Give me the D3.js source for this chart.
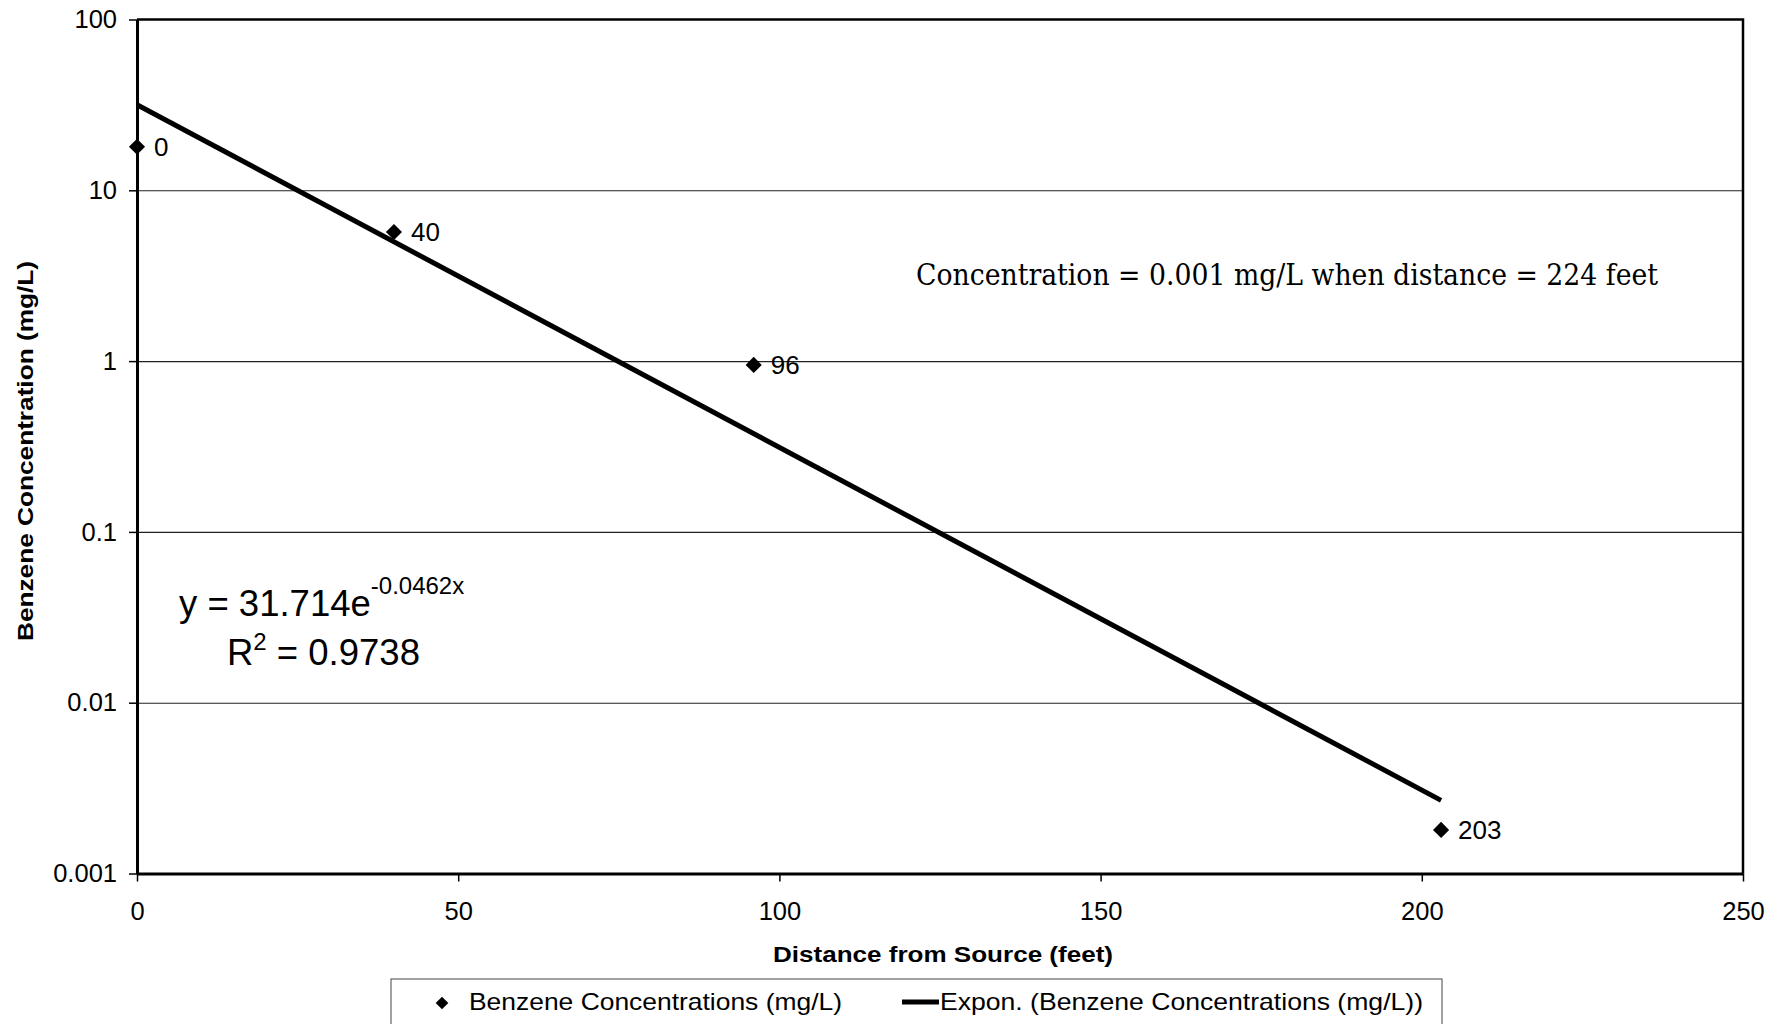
<!DOCTYPE html>
<html>
<head>
<meta charset="utf-8">
<script src="https://cdn.jsdelivr.net/npm/d3@7"></script>
<style>
  body { margin: 0; background: #fff; }
  svg text { font-family: "Liberation Sans", Arial, sans-serif; fill: #000; }
</style>
</head>
<body>
<div id="chart"></div>
<script>
// values
let distances = [0, 40, 96, 203];
let concentrations = [18, 5.7, 0.95, 0.0018];
let pointLabels = ['0', '40', '96', '203'];
let xTicks = [0, 50, 100, 150, 200, 250];
let yTicks = [100, 10, 1, 0.1, 0.01, 0.001];
let yTickLabels = ['100', '10', '1', '0.1', '0.01', '0.001'];
let gridValues = [10, 1, 0.1, 0.01];
// fitted exponential shown on the chart: y = a * e^(b x)
let trendCoef = [31.714, -0.0462];
let trendRange = [0, 203];

//#region sizes
let width = 1773,
    height = 1024,
    plotLeft = 137,
    plotRight = 1743,
    plotTop = 19.5,
    plotBottom = 873.5;
//#endregion

let svg = d3.select('#chart')
    .append('svg')
    .attr('width', width)
    .attr('height', height);

let xScale = d3.scaleLinear()
    .domain([0, 250])
    .range([plotLeft, plotRight]);

let yScale = d3.scaleLog()
    .domain([0.001, 100])
    .range([plotBottom, plotTop]);

//#region grid + axes
svg.append('g')
    .attr('class', 'grid')
    .attr('transform', `translate(${plotLeft},0)`)
    .call(d3.axisLeft(yScale).tickValues(gridValues).tickSize(-(plotRight - plotLeft)).tickFormat(''))
    .call(g => g.select('.domain').remove())
    .call(g => g.selectAll('line').attr('stroke', '#222').attr('stroke-width', 1.1));

// top + right border
svg.append('path')
    .attr('d', `M${plotLeft},${plotTop}H${plotRight}V${plotBottom}`)
    .attr('fill', 'none')
    .attr('stroke', '#000')
    .attr('stroke-width', 2.5);

let axisY = d3.axisLeft(yScale)
    .tickValues(yTicks)
    .tickFormat((d, i) => yTickLabels[i])
    .tickSize(8)
    .tickSizeOuter(0)
    .tickPadding(12);

svg.append('g')
    .attr('transform', `translate(${plotLeft},0)`)
    .call(axisY)
    .call(g => g.select('.domain').attr('stroke-width', 3))
    .call(g => g.selectAll('.tick line').attr('stroke-width', 1.5))
    .call(g => g.selectAll('text').attr('font-size', 25.5))
    .attr('font-family', null);

let axisX = d3.axisBottom(xScale)
    .tickValues(xTicks)
    .tickSize(8)
    .tickSizeOuter(0)
    .tickPadding(20);

svg.append('g')
    .attr('transform', `translate(0,${plotBottom})`)
    .call(axisX)
    .call(g => g.select('.domain').attr('stroke-width', 3))
    .call(g => g.selectAll('.tick line').attr('stroke-width', 1.5))
    .call(g => g.selectAll('text').attr('font-size', 25.5))
    .attr('font-family', null);
//#endregion

//#region trend line
let trendPts = trendRange.map(x => [x, trendCoef[0] * Math.exp(trendCoef[1] * x)]);
let line = d3.line()
    .x(d => xScale(d[0]))
    .y(d => yScale(d[1]));

svg.append('path')
    .datum(trendPts)
    .attr('d', line)
    .attr('fill', 'none')
    .attr('stroke', '#000')
    .attr('stroke-width', 5);
//#endregion

//#region points
let diamond = d3.symbol().type(d3.symbolSquare).size(130);

svg.selectAll('.pt')
    .data(distances)
    .enter()
    .append('path')
    .attr('class', 'pt')
    .attr('d', diamond)
    .attr('transform', (d, i) => `translate(${xScale(d)},${yScale(concentrations[i])}) rotate(45)`)
    .attr('fill', '#000');

svg.selectAll('.ptlabel')
    .data(distances)
    .enter()
    .append('text')
    .attr('class', 'ptlabel')
    .attr('x', d => xScale(d) + 17)
    .attr('y', (d, i) => yScale(concentrations[i]))
    .attr('dy', '0.36em')
    .attr('font-size', 26)
    .text((d, i) => pointLabels[i]);
//#endregion

//#region annotations
let eq = svg.append('text')
    .attr('x', 179)
    .attr('y', 616)
    .attr('font-size', 36.5);
eq.append('tspan').text('y = 31.714e');
eq.append('tspan').attr('dy', -22).attr('font-size', 24).text('-0.0462x');

let r2 = svg.append('text')
    .attr('x', 227)
    .attr('y', 665)
    .attr('font-size', 36.5);
r2.append('tspan').text('R');
r2.append('tspan').attr('dy', -15).attr('font-size', 24).text('2');
r2.append('tspan').attr('dy', 15).text(' = 0.9738');

svg.append('text')
    .attr('x', 916)
    .attr('y', 285)
    .attr('font-size', 30)
    .style('font-family', '"DejaVu Serif", "Liberation Serif", serif')
    .style('font-stretch', 'condensed')
    .attr('textLength', 742)
    .attr('lengthAdjust', 'spacingAndGlyphs')
    .text('Concentration = 0.001 mg/L when distance = 224 feet');
//#endregion

//#region axis titles
svg.append('text')
    .attr('transform', 'translate(33,451) rotate(-90)')
    .attr('text-anchor', 'middle')
    .attr('font-size', 21.5)
    .attr('font-weight', 'bold')
    .attr('textLength', 380)
    .attr('lengthAdjust', 'spacingAndGlyphs')
    .text('Benzene Concentration (mg/L)');

svg.append('text')
    .attr('x', 943)
    .attr('y', 962)
    .attr('text-anchor', 'middle')
    .attr('font-size', 22)
    .attr('font-weight', 'bold')
    .attr('textLength', 340)
    .attr('lengthAdjust', 'spacingAndGlyphs')
    .text('Distance from Source (feet)');
//#endregion

//#region legend
let legend = svg.append('g');
legend.append('rect')
    .attr('x', 391)
    .attr('y', 979)
    .attr('width', 1442 - 391)
    .attr('height', 60)
    .attr('fill', 'none')
    .attr('stroke', '#444')
    .attr('stroke-width', 1);

legend.append('path')
    .attr('d', d3.symbol().type(d3.symbolSquare).size(80))
    .attr('transform', 'translate(442,1003) rotate(45)')
    .attr('fill', '#000');

legend.append('text')
    .attr('x', 469)
    .attr('y', 1010)
    .attr('font-size', 24)
    .attr('textLength', 373)
    .attr('lengthAdjust', 'spacingAndGlyphs')
    .text('Benzene Concentrations (mg/L)');

legend.append('line')
    .attr('x1', 902).attr('x2', 939)
    .attr('y1', 1002).attr('y2', 1002)
    .attr('stroke', '#000')
    .attr('stroke-width', 5);

legend.append('text')
    .attr('x', 940)
    .attr('y', 1010)
    .attr('font-size', 24)
    .attr('textLength', 483)
    .attr('lengthAdjust', 'spacingAndGlyphs')
    .text('Expon. (Benzene Concentrations (mg/L))');
//#endregion
</script>
</body>
</html>
